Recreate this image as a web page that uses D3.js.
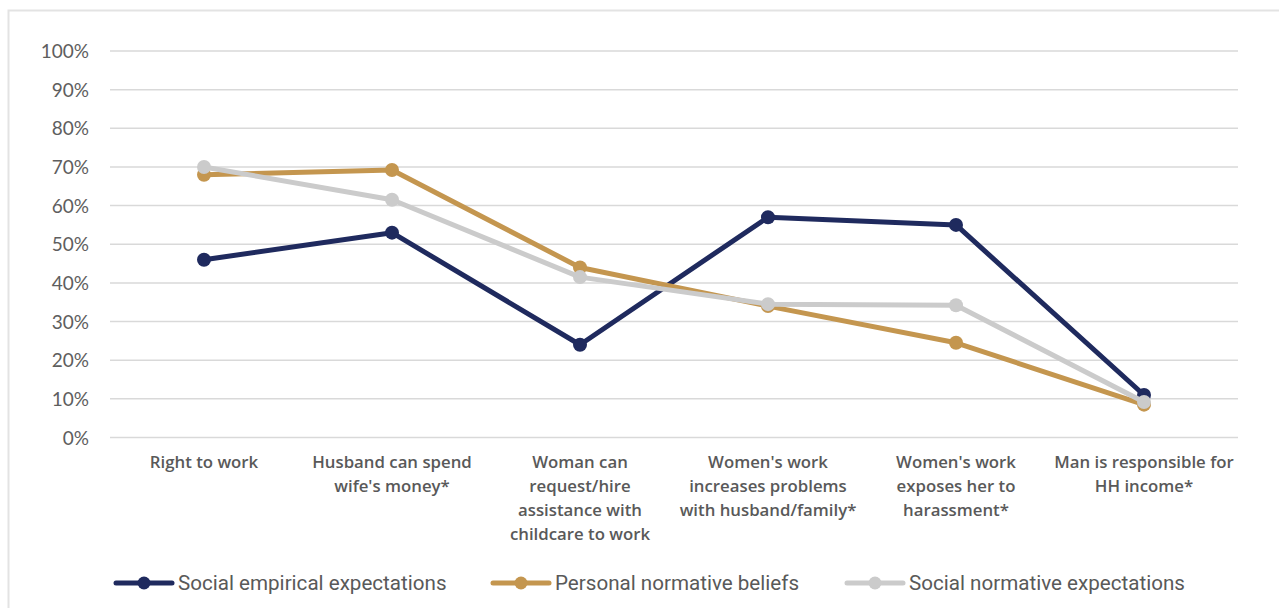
<!DOCTYPE html>
<html><head><meta charset="utf-8">
<script src="https://cdn.jsdelivr.net/npm/d3@7"></script>
<style>body{margin:0;background:#fff;} svg{display:block;}</style>
</head><body>
<script>
const categories = [
  ["Right to work"],
  ["Husband can spend", "wife's money*"],
  ["Woman can", "request/hire", "assistance with", "childcare to work"],
  ["Women's work", "increases problems", "with husband/family*"],
  ["Women's work", "exposes her to", "harassment*"],
  ["Man is responsible for", "HH income*"]
];
const seriesNames = ["Social empirical expectations", "Personal normative beliefs", "Social normative expectations"];
const socialEmpirical = [46, 53, 24, 57, 55, 11];
const personalNormative = [68, 69.2, 44, 34, 24.5, 8.5];
const socialNormative = [70, 61.5, 41.5, 34.5, 34.2, 9.2];
const yTicks = [0, 10, 20, 30, 40, 50, 60, 70, 80, 90, 100];
const colors = ["#1f2a5e", "#c4964f", "#cbcbcb"];

const W = 1279, H = 608;
const svg = d3.select("body").append("svg").attr("width", W).attr("height", H);

// frame
svg.append("rect").attr("x", 8.5).attr("y", 10.5).attr("width", W + 10).attr("height", H + 10)
  .attr("fill", "none").attr("stroke", "#e3e3e3").attr("stroke-width", 2);

const mLeft = 110, mRight = 1238, mTop = 51, mBottom = 437.5;
const x = d3.scalePoint().domain(d3.range(categories.length)).range([mLeft, mRight]).padding(0.5);
const y = d3.scaleLinear().domain([0, 100]).range([mBottom, mTop]);

// gridlines
svg.append("g").selectAll("line").data(yTicks).join("line")
  .attr("x1", mLeft).attr("x2", mRight)
  .attr("y1", d => y(d)).attr("y2", d => y(d))
  .attr("stroke", "#d9d9d9").attr("stroke-width", 1.5);

// y axis
const yAxis = d3.axisLeft(y).tickValues(yTicks).tickFormat(d => d + "%").tickSize(0).tickPadding(0);
const gy = svg.append("g").attr("transform", `translate(89,0)`).call(yAxis);
gy.select(".domain").remove();
gy.selectAll("text").attr("font-family", "Lato, 'Open Sans', sans-serif").attr("font-size", 19)
  .attr("fill", "#5e5e5e").attr("dy", "0.35em");

// x labels
const gx = svg.append("g");
categories.forEach((lines, i) => {
  const t = gx.append("text").attr("x", x(i)).attr("y", 468).attr("text-anchor", "middle")
    .attr("font-family", "'Open Sans', sans-serif").attr("font-weight", 600).attr("font-size", 16.8)
    .attr("fill", "#595959");
  lines.forEach((ln, j) => t.append("tspan").attr("x", x(i)).attr("dy", j === 0 ? 0 : 24).text(ln));
});

const allSeries = [socialEmpirical, personalNormative, socialNormative];
const line = d3.line().x((d, i) => x(i)).y(d => y(d));
allSeries.forEach((vals, k) => {
  const g = svg.append("g");
  g.append("path").datum(vals).attr("d", line).attr("fill", "none")
    .attr("stroke", colors[k]).attr("stroke-width", 5).attr("stroke-linejoin", "round");
  g.selectAll("circle").data(vals).join("circle")
    .attr("cx", (d, i) => x(i)).attr("cy", d => y(d)).attr("r", 7).attr("fill", colors[k]);
});

// legend
const legendX = [116, 493, 847];
seriesNames.forEach((name, k) => {
  const g = svg.append("g").attr("transform", `translate(${legendX[k]},583)`);
  g.append("line").attr("x1", 0).attr("x2", 56).attr("y1", 0).attr("y2", 0)
    .attr("stroke", colors[k]).attr("stroke-width", 5).attr("stroke-linecap", "round");
  g.append("circle").attr("cx", 28).attr("cy", 0).attr("r", 6.5).attr("fill", colors[k]);
  g.append("text").attr("x", 62).attr("y", 0).attr("dy", "0.35em")
    .attr("font-family", "Roboto, sans-serif").attr("font-size", 20.6).attr("fill", "#595959")
    .text(name);
});
</script>
</body></html>
